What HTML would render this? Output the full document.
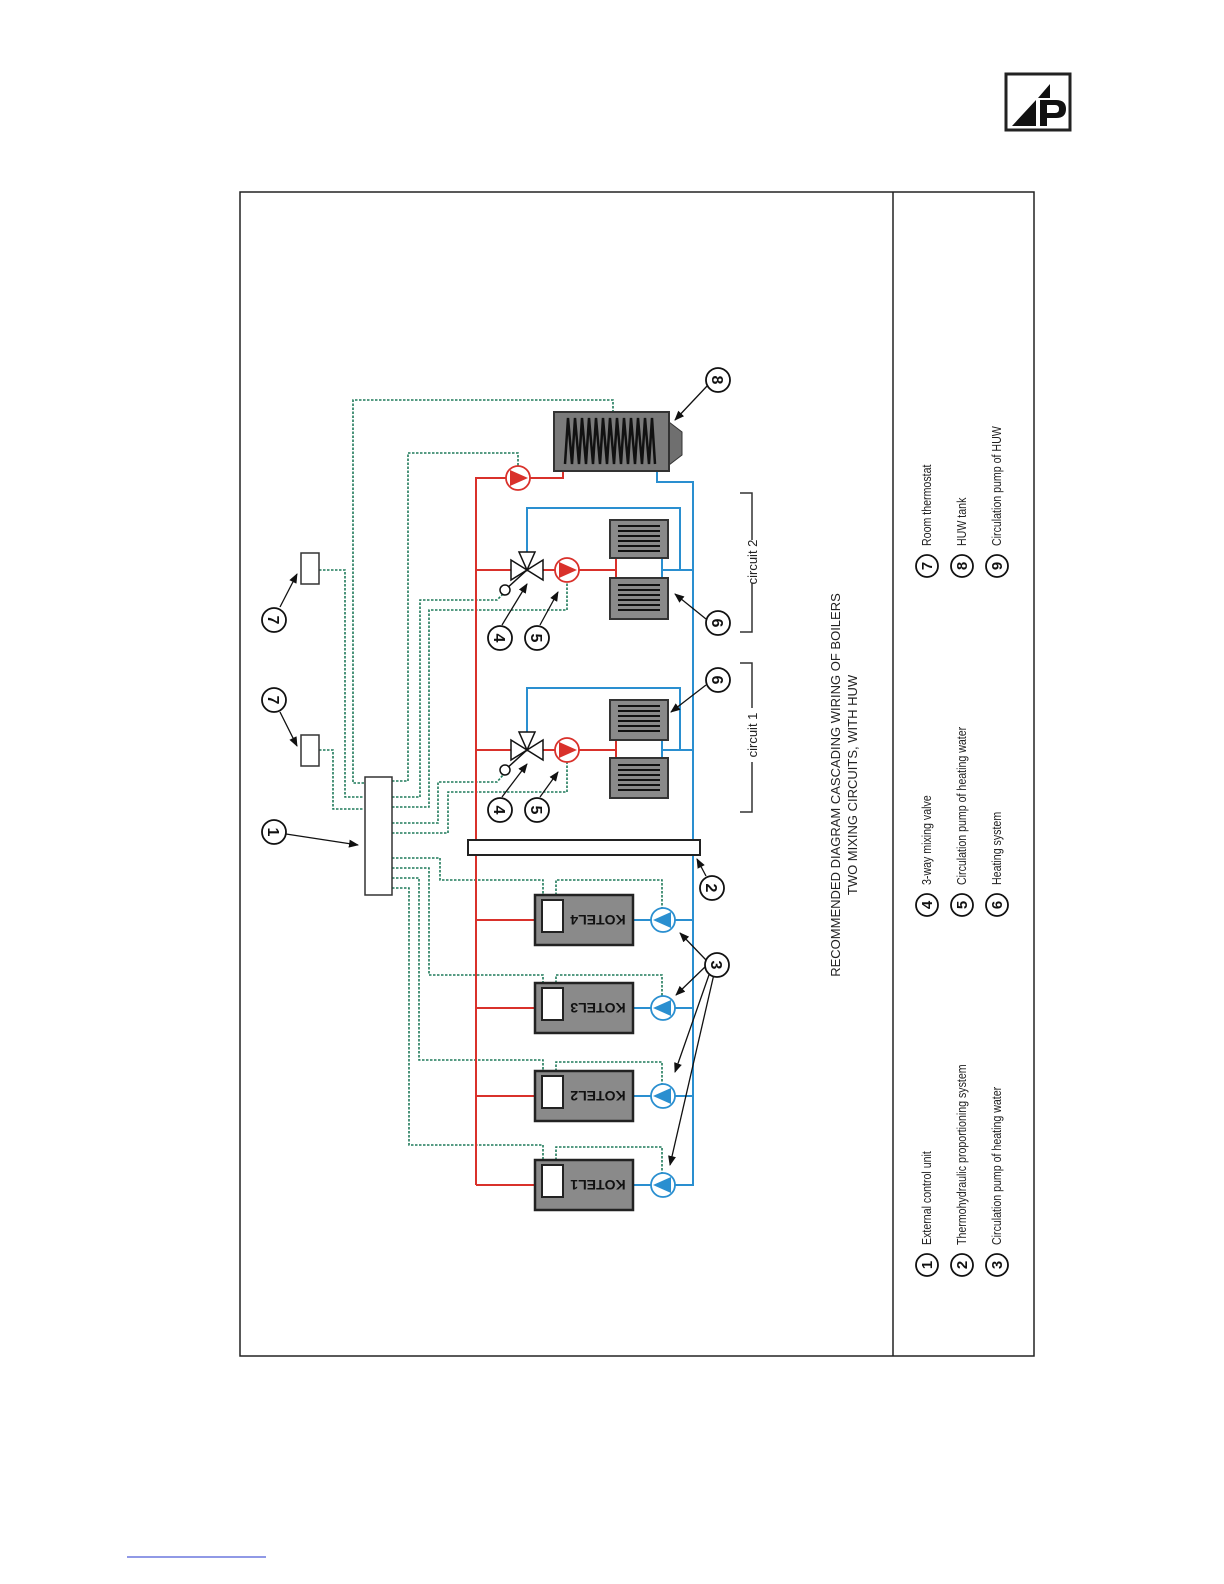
<!DOCTYPE html>
<html><head><meta charset="utf-8"><style>
html,body{margin:0;padding:0;background:#fff;}
svg{display:block;}
text{font-family:"Liberation Sans",sans-serif;}
</style></head><body>
<svg width="1224" height="1584" viewBox="0 0 1224 1584" xmlns="http://www.w3.org/2000/svg">
<defs>
<marker id="ar" markerWidth="10" markerHeight="8" refX="9" refY="4" orient="auto" markerUnits="userSpaceOnUse"><path d="M0,0 L10,4 L0,8 z" fill="#111"/></marker>
</defs>
<rect x="1006" y="74" width="64" height="56" fill="#fff" stroke="#222" stroke-width="3"/>
<path d="M1012,126 L1036,100 L1036,126 z M1038,98 L1050,84 L1050,98 z" fill="#111"/>
<path d="M1040,126 L1040,100 L1056,100 Q1066,100 1066,109 Q1066,118 1056,118 L1047,118 L1047,126 z M1047,105 L1047,113 L1055,113 Q1059,113 1059,109 Q1059,105 1055,105 z" fill="#111" fill-rule="evenodd"/>
<rect x="240" y="192" width="794" height="1164" fill="none" stroke="#222" stroke-width="1.5"/>
<line x1="893" y1="192" x2="893" y2="1356" stroke="#222" stroke-width="1.5"/>
<line x1="127" y1="1557" x2="266" y2="1557" stroke="#2233cc" stroke-width="1"/>

<g fill="none" stroke="#1f7a5a" stroke-width="1.6" stroke-dasharray="2.5,1.5">
<path d="M364,783 L353,783 L353,400 L613,400 L613,412"/>
<path d="M392,781 L408,781 L408,453 L518,453 L518,466"/>
<path d="M319,570 L345,570 L345,797 L364,797"/>
<path d="M319,750 L333,750 L333,809 L364,809"/>
<path d="M392,797 L420,797 L420,600 L497,600 L503,594"/>
<path d="M392,807 L429,807 L429,610 L567,610 L567,582"/>
<path d="M392,823 L438,823 L438,782 L497,782 L503,775"/>
<path d="M392,833 L448,833 L448,792 L567,792 L567,762"/>
<path d="M392,858 L440,858 L440,880 L543,880 L543,895"/>
<path d="M556,895 L556,880 L662,880 L662,908"/>
<path d="M392,868 L429,868 L429,975 L543,975 L543,983"/>
<path d="M556,983 L556,975 L662,975 L662,996"/>
<path d="M392,878 L419,878 L419,1060 L543,1060 L543,1071"/>
<path d="M556,1071 L556,1062 L662,1062 L662,1084"/>
<path d="M392,888 L409,888 L409,1145 L543,1145 L543,1160"/>
<path d="M556,1160 L556,1147 L662,1147 L662,1173"/>
</g>

<g fill="none" stroke="#d9312b" stroke-width="2">
<path d="M563,471 L563,478 L476,478 L476,1185"/>
<line x1="476" y1="570" x2="616" y2="570"/>
<line x1="616" y1="558" x2="616" y2="580"/>
<line x1="476" y1="750" x2="616" y2="750"/>
<line x1="616" y1="740" x2="616" y2="760"/>
<line x1="476" y1="920" x2="535" y2="920"/>
<line x1="476" y1="1008" x2="535" y2="1008"/>
<line x1="476" y1="1096" x2="535" y2="1096"/>
<line x1="476" y1="1185" x2="535" y2="1185"/>
</g>
<g fill="none" stroke="#2a8fd0" stroke-width="2">
<path d="M657,471 L657,482 L693,482 L693,1185 L633,1185"/>
<path d="M527,558 L527,508 L680,508 L680,570 L693,570"/>
<path d="M662,558 L662,578 M662,570 L680,570"/>
<path d="M527,738 L527,688 L680,688 L680,750 L693,750"/>
<path d="M662,740 L662,760 M662,750 L680,750"/>
<line x1="633" y1="920" x2="693" y2="920"/>
<line x1="633" y1="1008" x2="693" y2="1008"/>
<line x1="633" y1="1096" x2="693" y2="1096"/>
</g>

<rect x="468" y="840" width="232" height="15" fill="#fff" stroke="#222" stroke-width="2"/>
<rect x="365" y="777" width="27" height="118" fill="#fff" stroke="#333" stroke-width="1.5"/>
<rect x="301" y="553" width="18" height="31" fill="#fff" stroke="#333" stroke-width="1.5"/>
<rect x="301" y="735" width="18" height="31" fill="#fff" stroke="#333" stroke-width="1.5"/>

<path d="M669,422 L682,432 L682,455 L669,465 z" fill="#6f6f6f" stroke="#333"/>
<rect x="554" y="412" width="115" height="59" fill="#7a7a7a" stroke="#333" stroke-width="2"/>
<path d="M565,464 L568,418 L572,464 L575,418 L579,464 L582,418 L586,464 L589,418 L593,464 L596,418 L600,464 L603,418 L607,464 L610,418 L614,464 L617,418 L621,464 L624,418 L628,464 L631,418 L635,464 L638,418 L642,464 L645,418 L649,464 L652,418 L655,464" fill="none" stroke="#111" stroke-width="2.5"/>

<g fill="#8a8a8a" stroke="#333" stroke-width="2">
<rect x="610" y="520" width="58" height="38"/>
<rect x="610" y="578" width="58" height="41"/>
<rect x="610" y="700" width="58" height="40"/>
<rect x="610" y="758" width="58" height="40"/>
</g>
<g stroke="#111" stroke-width="2">
<path d="M618,526H660M618,531H660M618,536H660M618,541H660M618,546H660M618,551H660"/>
<path d="M618,585H660M618,590H660M618,595H660M618,600H660M618,605H660M618,610H660"/>
<path d="M618,706H660M618,711H660M618,716H660M618,721H660M618,726H660M618,731H660"/>
<path d="M618,765H660M618,770H660M618,775H660M618,780H660M618,785H660M618,790H660"/>
</g>

<g fill="#fff" stroke="#111" stroke-width="1.5">
<path d="M511,560 L527,570 L511,580 z M543,560 L527,570 L543,580 z M519,552 L535,552 L527,570 z"/>
<path d="M511,740 L527,750 L511,760 z M543,740 L527,750 L543,760 z M519,732 L535,732 L527,750 z"/>
<line x1="527" y1="570" x2="505" y2="590"/>
<line x1="527" y1="750" x2="505" y2="770"/>
<circle cx="505" cy="590" r="5"/>
<circle cx="505" cy="770" r="5"/>
</g>

<g>
<circle cx="518" cy="478" r="12" fill="#fff" stroke="#d9312b" stroke-width="1.8"/>
<path d="M510,470 L528,478 L510,486 z" fill="#d9312b"/>
<circle cx="567" cy="570" r="12" fill="#fff" stroke="#d9312b" stroke-width="1.8"/>
<path d="M559,562 L577,570 L559,578 z" fill="#d9312b"/>
<circle cx="567" cy="750" r="12" fill="#fff" stroke="#d9312b" stroke-width="1.8"/>
<path d="M559,742 L577,750 L559,758 z" fill="#d9312b"/>
</g>

<g fill="#8a8a8a" stroke="#222" stroke-width="2.5">
<rect x="535" y="895" width="98" height="50"/>
<rect x="535" y="983" width="98" height="50"/>
<rect x="535" y="1071" width="98" height="50"/>
<rect x="535" y="1160" width="98" height="50"/>
</g>
<g fill="#fff" stroke="#222" stroke-width="2">
<rect x="542" y="900" width="21" height="32"/>
<rect x="542" y="988" width="21" height="32"/>
<rect x="542" y="1076" width="21" height="32"/>
<rect x="542" y="1165" width="21" height="32"/>
</g>
<g font-size="14" font-weight="bold" fill="#111" text-anchor="middle">
<text transform="translate(598,920) rotate(180)" dy="5">KOTEL4</text>
<text transform="translate(598,1008) rotate(180)" dy="5">KOTEL3</text>
<text transform="translate(598,1096) rotate(180)" dy="5">KOTEL2</text>
<text transform="translate(598,1185) rotate(180)" dy="5">KOTEL1</text>
</g>
<g>
<circle cx="663" cy="920" r="12" fill="#fff" stroke="#2a8fd0" stroke-width="1.8"/>
<path d="M671,912 L653,920 L671,928 z" fill="#2a8fd0"/>
<circle cx="663" cy="1008" r="12" fill="#fff" stroke="#2a8fd0" stroke-width="1.8"/>
<path d="M671,1000 L653,1008 L671,1016 z" fill="#2a8fd0"/>
<circle cx="663" cy="1096" r="12" fill="#fff" stroke="#2a8fd0" stroke-width="1.8"/>
<path d="M671,1088 L653,1096 L671,1104 z" fill="#2a8fd0"/>
<circle cx="663" cy="1185" r="12" fill="#fff" stroke="#2a8fd0" stroke-width="1.8"/>
<path d="M671,1177 L653,1185 L671,1193 z" fill="#2a8fd0"/>
</g>

<g stroke="#111" stroke-width="1.3" marker-end="url(#ar)" fill="none">
<line x1="280" y1="607" x2="297" y2="574"/>
<line x1="280" y1="712" x2="297" y2="746"/>
<line x1="286" y1="834" x2="358" y2="845"/>
<line x1="502" y1="625" x2="527" y2="584"/>
<line x1="540" y1="625" x2="558" y2="592"/>
<line x1="502" y1="797" x2="527" y2="764"/>
<line x1="540" y1="797" x2="558" y2="772"/>
<line x1="706" y1="619" x2="675" y2="594"/>
<line x1="706" y1="685" x2="671" y2="712"/>
<line x1="708" y1="385" x2="675" y2="420"/>
<line x1="706" y1="876" x2="697" y2="859"/>
<line x1="706" y1="960" x2="680" y2="933"/>
<line x1="706" y1="966" x2="676" y2="995"/>
<line x1="710" y1="972" x2="675" y2="1072"/>
<line x1="714" y1="974" x2="670" y2="1165"/>
</g>
<g fill="#fff" stroke="#111" stroke-width="1.8">
<circle cx="274" cy="620" r="12"/><circle cx="274" cy="700" r="12"/><circle cx="274" cy="832" r="12"/>
<circle cx="500" cy="638" r="12"/><circle cx="537" cy="638" r="12"/>
<circle cx="500" cy="810" r="12"/><circle cx="537" cy="810" r="12"/>
<circle cx="718" cy="623" r="12"/><circle cx="718" cy="680" r="12"/><circle cx="718" cy="380" r="12"/>
<circle cx="712" cy="888" r="12"/><circle cx="717" cy="965" r="12"/>
</g>
<g font-size="16" font-weight="bold" fill="#111" text-anchor="middle">
<text transform="translate(274,620) rotate(90)" dy="6">7</text>
<text transform="translate(274,700) rotate(90)" dy="6">7</text>
<text transform="translate(274,832) rotate(90)" dy="6">1</text>
<text transform="translate(500,638) rotate(90)" dy="6">4</text>
<text transform="translate(537,638) rotate(90)" dy="6">5</text>
<text transform="translate(500,810) rotate(90)" dy="6">4</text>
<text transform="translate(537,810) rotate(90)" dy="6">5</text>
<text transform="translate(718,623) rotate(90)" dy="6">6</text>
<text transform="translate(718,680) rotate(90)" dy="6">6</text>
<text transform="translate(718,380) rotate(90)" dy="6">8</text>
<text transform="translate(712,888) rotate(90)" dy="6">2</text>
<text transform="translate(717,965) rotate(90)" dy="6">3</text>
</g>

<g fill="none" stroke="#333" stroke-width="1.5">
<path d="M740,493 L752,493 L752,540 M752,583 L752,632 L740,632"/>
<path d="M740,663 L752,663 L752,708 M752,762 L752,812 L740,812"/>
</g>
<g font-size="13" fill="#222" text-anchor="middle">
<text transform="translate(757,562) rotate(-90)">circuit 2</text>
<text transform="translate(757,735) rotate(-90)">circuit 1</text>
<text transform="translate(840,785) rotate(-90)">RECOMMENDED  DIAGRAM CASCADING WIRING OF BOILERS</text>
<text transform="translate(857,785) rotate(-90)">TWO MIXING CIRCUITS, WITH HUW</text>
</g>

<g fill="#fff" stroke="#111" stroke-width="1.8">
<circle cx="927" cy="1265" r="11"/><circle cx="962" cy="1265" r="11"/><circle cx="997" cy="1265" r="11"/>
<circle cx="927" cy="905" r="11"/><circle cx="962" cy="905" r="11"/><circle cx="997" cy="905" r="11"/>
<circle cx="927" cy="566" r="11"/><circle cx="962" cy="566" r="11"/><circle cx="997" cy="566" r="11"/>
</g>
<g font-size="15" font-weight="bold" fill="#111" text-anchor="middle">
<text transform="translate(927,1265) rotate(-90)" dy="5">1</text>
<text transform="translate(962,1265) rotate(-90)" dy="5">2</text>
<text transform="translate(997,1265) rotate(-90)" dy="5">3</text>
<text transform="translate(927,905) rotate(-90)" dy="5">4</text>
<text transform="translate(962,905) rotate(-90)" dy="5">5</text>
<text transform="translate(997,905) rotate(-90)" dy="5">6</text>
<text transform="translate(927,566) rotate(-90)" dy="5">7</text>
<text transform="translate(962,566) rotate(-90)" dy="5">8</text>
<text transform="translate(997,566) rotate(-90)" dy="5">9</text>
</g>
<g font-size="12.5" fill="#222">
<text transform="translate(931,1245) rotate(-90) scale(0.85,1)">External control unit</text>
<text transform="translate(966,1245) rotate(-90) scale(0.85,1)">Thermohydraulic proportioning system</text>
<text transform="translate(1001,1245) rotate(-90) scale(0.85,1)">Circulation pump of heating water</text>
<text transform="translate(931,885) rotate(-90) scale(0.85,1)">3-way mixing valve</text>
<text transform="translate(966,885) rotate(-90) scale(0.85,1)">Circulation pump of heating water</text>
<text transform="translate(1001,885) rotate(-90) scale(0.85,1)">Heating system</text>
<text transform="translate(931,546) rotate(-90) scale(0.85,1)">Room thermostat</text>
<text transform="translate(966,546) rotate(-90) scale(0.85,1)">HUW tank</text>
<text transform="translate(1001,546) rotate(-90) scale(0.85,1)">Circulation pump of HUW</text>
</g>
</svg>
</body></html>
